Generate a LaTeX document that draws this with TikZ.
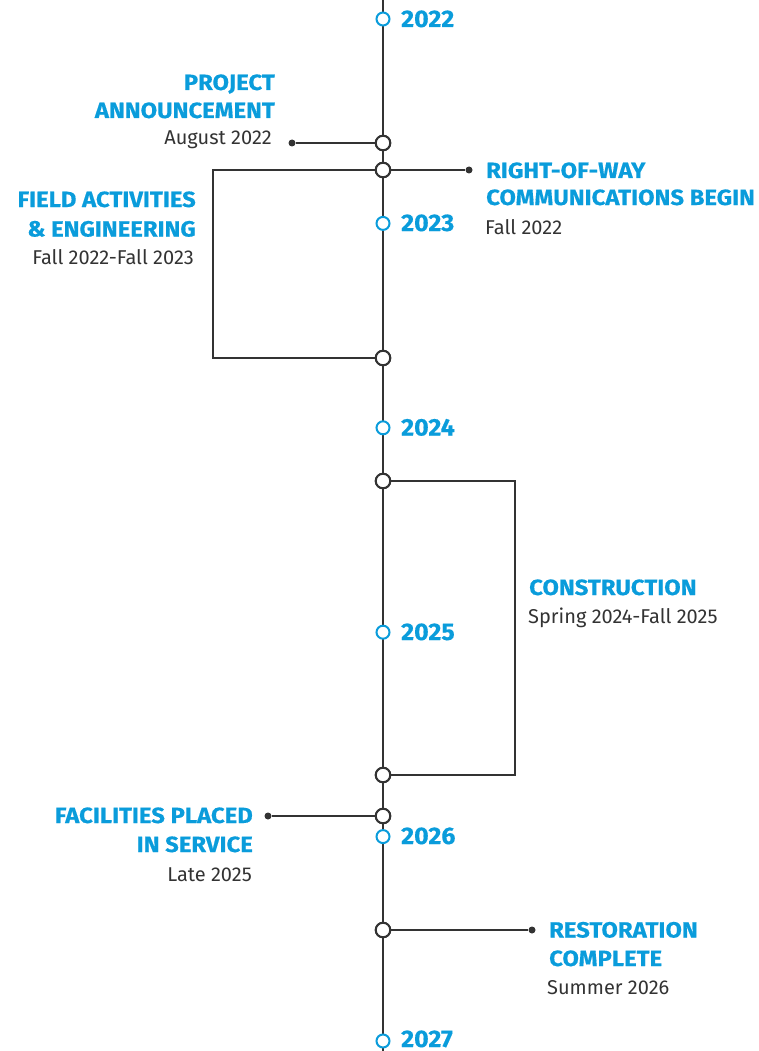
\documentclass[tikz,border=0pt]{standalone}
\usepackage{fontspec}
\setmainfont{Fira Sans}
\newfontfamily\ttlfont[FakeStretch=1.085,FakeBold=0.5]{Fira Sans}
\newfontfamily\yrfont[FakeStretch=1.04,FakeBold=0.5]{Fira Sans}
\definecolor{tlblue}{HTML}{0A9CDB}
\definecolor{ink}{HTML}{333333}
\begin{document}
\begin{tikzpicture}[x=1pt,y=-1pt,
  spine/.style={draw=ink,line width=2pt},
  link/.style={draw=ink,line width=2pt,line join=miter},
  yearc/.style={circle,draw=tlblue,fill=white,line width=2pt,minimum size=13pt,inner sep=0pt},
  evc/.style={circle,draw=ink,fill=white,line width=2pt,minimum size=14.5pt,inner sep=0pt},
  dotc/.style={circle,fill=ink,minimum size=7pt,inner sep=0pt},
  ttl/.style={font=\fontsize{22}{26}\ttlfont\bfseries,text=tlblue,inner sep=0pt},
  dte/.style={font=\fontsize{20}{24}\selectfont,text=ink,inner sep=0pt},
  yr/.style={font=\fontsize{24}{28}\yrfont\bfseries,text=tlblue,inner sep=0pt,text depth=0pt,anchor=base west}]
\useasboundingbox (0,0) rectangle (759,1051);
\coordinate (top) at (383,0);
\coordinate (bot) at (383,1051);
\draw[spine] (top) -- (bot);
% event circles
\node[evc] (e1) at (383,143) {};
\node[evc] (e2) at (383,170) {};
\node[evc] (e3) at (383,358) {};
\node[evc] (e4) at (383,481) {};
\node[evc] (e5) at (383,775) {};
\node[evc] (e6) at (383,816) {};
\node[evc] (e7) at (383,930) {};
% dots
\node[dotc] (d1) at (292,143) {};
\node[dotc] (d2) at (469,170) {};
\node[dotc] (d6) at (268,816) {};
\node[dotc] (d7) at (532,930) {};
% bracket corners
\coordinate (fa1) at (213,170);
\coordinate (fa2) at (213,358);
\coordinate (co1) at (515,481);
\coordinate (co2) at (515,775);
% connectors
\draw[link] (e1) -- (d1);
\draw[link] (e2) -- (d2);
\draw[link] (e6) -- (d6);
\draw[link] (e7) -- (d7);
\draw[link] (e2) -- (fa1) -- (fa2) -- (e3);
\draw[link] (e4) -- (co1) -- (co2) -- (e5);
% redraw circles on top
\foreach \n in {e1,e2,e3,e4,e5,e6,e7}{\node[evc] at (\n) {};}
% year markers
\node[yearc] (c22) at (383,19) {};
\node[yearc] (c23) at (383,223.4) {};
\node[yearc] (c24) at (383,427.8) {};
\node[yearc] (c25) at (383,632.2) {};
\node[yearc] (c26) at (383,836.6) {};
\node[yearc] (c27) at (383,1041) {};
\node[yr] (y22) at (401,27) {2022};
\node[yr] (y23) at (401,231) {2023};
\node[yr] (y24) at (401,435.5) {2024};
\node[yr] (y25) at (401,640) {2025};
\node[yr] (y26) at (401,844) {2026};
\node[yr] (y27) at (401,1047) {2027};
% labels
\node[ttl,anchor=base east] (pa1) at (275,90) {PROJECT};
\node[ttl,anchor=base east] (pa2) at (275,118) {ANNOUNCEMENT};
\node[dte,anchor=base east] (pa3) at (272,145) {August 2022};
\node[ttl,anchor=base west] (rw1) at (486,178) {RIGHT-OF-WAY};
\node[ttl,anchor=base west] (rw2) at (486,205) {COMMUNICATIONS BEGIN};
\node[dte,anchor=base west] (rw3) at (485,234) {Fall 2022};
\node[ttl,anchor=base east] (fa3) at (196,207) {FIELD ACTIVITIES};
\node[ttl,anchor=base east] (fa4) at (196,236.5) {\& ENGINEERING};
\node[dte,anchor=base east] (fa5) at (194,264) {Fall 2022-Fall 2023};
\node[ttl,anchor=base west] (cn1) at (529,595) {CONSTRUCTION};
\node[dte,anchor=base west] (cn2) at (528,623) {Spring 2024-Fall 2025};
\node[ttl,anchor=base east] (fc1) at (253,823) {FACILITIES PLACED};
\node[ttl,anchor=base east] (fc2) at (253,852) {IN SERVICE};
\node[dte,anchor=base east] (fc3) at (252,881) {Late 2025};
\node[ttl,anchor=base west] (rs1) at (549,937.5) {RESTORATION};
\node[ttl,anchor=base west] (rs2) at (549,966) {COMPLETE};
\node[dte,anchor=base west] (rs3) at (547,994) {Summer 2026};
\end{tikzpicture}
\end{document}
